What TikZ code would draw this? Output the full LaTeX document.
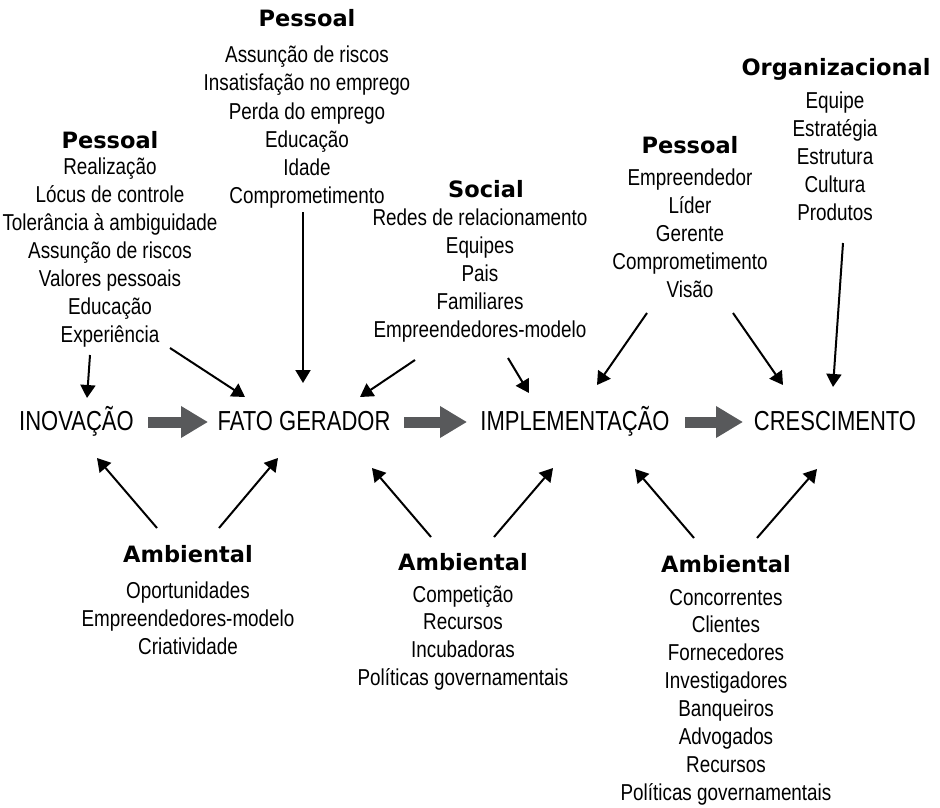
\documentclass[tikz,border=0pt]{standalone}
\usepackage{fontspec}
\setmainfont{Liberation Sans}[FakeStretch=0.82]
\newfontfamily\mainlabfont{Liberation Sans}[FakeStretch=0.8]
\newfontfamily\headfam{DejaVu Sans}
\usetikzlibrary{arrows.meta,calc}
\definecolor{arrgray}{HTML}{58595B}
\tikzset{
 item/.style={anchor=base, inner sep=0pt, font=\fontsize{23}{26}\selectfont},
 head/.style={anchor=base, inner sep=0pt, font=\headfam\bfseries\fontsize{22.5}{26}\selectfont},
 stage/.style={anchor=base, inner sep=0pt, font=\mainlabfont\fontsize{27.5}{30}\selectfont},
 arr/.style={line width=2pt, -{Triangle[length=13pt,width=15pt]}},
 bigarr/.style={draw=arrgray, line width=11pt, -{Triangle[length=27pt,width=30pt]}},
}
\begin{document}
\begin{tikzpicture}[x=1pt,y=-1pt]
\useasboundingbox (0,0) rectangle (940,808);

% main stages
\node[stage] (inov)  at (76.5,430) {INOVAÇÃO};
\node[stage] (fato)  at (304,430) {FATO GERADOR};
\node[stage] (impl)  at (575,430) {IMPLEMENTAÇÃO};
\node[stage] (cresc) at (835,430) {CRESCIMENTO};

% left Pessoal
\node[head] (pa0) at (110,148) {Pessoal};
\foreach \t [count=\i] in {Realização, Lócus de controle, Tolerância à ambiguidade, Assunção de riscos, Valores pessoais, Educação, Experiência}
  \node[item] (pa\i) at (110,{174+28*(\i-1)}) {\t};

% top Pessoal
\node[head] (pb0) at (307,27) {Pessoal};
\foreach \t [count=\i] in {Assunção de riscos, Insatisfação no emprego, Perda do emprego, Educação, Idade, Comprometimento}
  \node[item] (pb\i) at (307,{63+28*(\i-1)}) {\t};

% Social
\node[head] (so0) at (486,197) {Social};
\foreach \t [count=\i] in {Redes de relacionamento, Equipes, Pais, Familiares, Empreendedores-modelo}
  \node[item] (so\i) at (480,{225+28*(\i-1)}) {\t};

% right Pessoal
\node[head] (pc0) at (690,153) {Pessoal};
\foreach \t [count=\i] in {Empreendedor, Líder, Gerente, Comprometimento, Visão}
  \node[item] (pc\i) at (690,{185+28*(\i-1)}) {\t};

% Organizacional
\node[head] (og0) at (836,75) {Organizacional};
\foreach \t [count=\i] in {Equipe, Estratégia, Estrutura, Cultura, Produtos}
  \node[item] (og\i) at (835,{108+28*(\i-1)}) {\t};

% Ambiental left
\node[head] (aa0) at (188,562) {Ambiental};
\foreach \t [count=\i] in {Oportunidades, Empreendedores-modelo, Criatividade}
  \node[item] (aa\i) at (188,{598+28*(\i-1)}) {\t};

% Ambiental middle
\node[head] (ab0) at (463,570) {Ambiental};
\foreach \t [count=\i] in {Competição, Recursos, Incubadoras, Políticas governamentais}
  \node[item] (ab\i) at (463,{602+27.7*(\i-1)}) {\t};

% Ambiental right
\node[head] (ac0) at (726,572) {Ambiental};
\foreach \t [count=\i] in {Concorrentes, Clientes, Fornecedores, Investigadores, Banqueiros, Advogados, Recursos, Políticas governamentais}
  \node[item] (ac\i) at (726,{605+27.9*(\i-1)}) {\t};

% big gray arrows
\draw[bigarr] ($(inov.base)+(71.5,-8)$) -- ($(fato.base)+(-96,-8)$);
\draw[bigarr] ($(fato.base)+(100,-8)$) -- ($(impl.base)+(-108,-8)$);
\draw[bigarr] ($(impl.base)+(110,-8)$) -- ($(cresc.base)+(-92,-8)$);

% top arrows
\draw[arr] ($(pa7.base)+(-20,13)$) -- ($(inov.base)+(10.5,-32)$);
\draw[arr] ($(pa7.base)+(60,6)$) -- ($(fato.base)+(-59,-33)$);
\draw[arr] ($(pb6.base)+(-4,9)$) -- ($(fato.base)+(-1,-47)$);
\draw[arr] ($(so5.base)+(-65,23)$) -- ($(fato.base)+(56,-33)$);
\draw[arr] ($(so5.base)+(28,21)$) -- ($(impl.base)+(-46,-37)$);
\draw[arr] ($(pc5.base)+(-43,16)$) -- ($(impl.base)+(22,-45)$);
\draw[arr] ($(pc5.base)+(43,16)$) -- ($(cresc.base)+(-52,-45)$);
\draw[arr] ($(og5.base)+(8,23)$) -- ($(cresc.base)+(-2,-43)$);

% bottom arrows
\draw[arr] ($(aa0.base)+(-31,-34)$) -- ($(inov.base)+(20.5,28)$);
\draw[arr] ($(aa0.base)+(31,-34)$) -- ($(fato.base)+(-26,28)$);
\draw[arr] ($(ab0.base)+(-32,-33)$) -- ($(fato.base)+(68,38)$);
\draw[arr] ($(ab0.base)+(31,-33)$) -- ($(impl.base)+(-22,38)$);
\draw[arr] ($(ac0.base)+(-32,-34)$) -- ($(impl.base)+(60,39)$);
\draw[arr] ($(ac0.base)+(31,-34)$) -- ($(cresc.base)+(-18,39)$);
\end{tikzpicture}
\end{document}
